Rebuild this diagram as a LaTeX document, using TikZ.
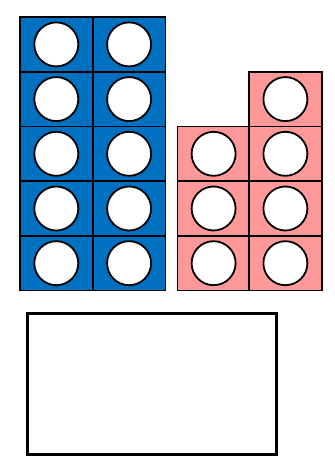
\documentclass[tikz,border=0pt]{standalone}
\usepackage{xcolor}
\usepackage{tikz}
\usetikzlibrary{positioning}
\definecolor{cubeblue}{RGB}{0,112,192}
\definecolor{cubepink}{RGB}{255,153,153}

\begin{document}
\begin{tikzpicture}[
    x=1pt, y=-1pt,
    cube/.style={rectangle, draw=black, line width=1.6pt, minimum width=72.6pt, minimum height=54.7pt, inner sep=0pt, outer sep=0pt},
    bluecube/.style={cube, fill=cubeblue},
    pinkcube/.style={cube, fill=cubepink},
    hole/.style={circle, draw=black, fill=white, line width=1.8pt, minimum size=44pt, inner sep=0pt},
    answer/.style={rectangle, draw=black, line width=3pt, minimum width=249pt, minimum height=141pt, inner sep=0pt}
]
\useasboundingbox (0,0) rectangle (334,462);

% blue stick: 2 x 5
\foreach \c in {0,1} {
  \foreach \r in {0,...,4} {
    \node[bluecube] (b-\c-\r) at ({56.3+72.8*\c}, {44.4+54.7*\r}) {};
    \node[hole] (bh-\c-\r) at (b-\c-\r) {};
  }
}

% pink stick: 3 + 4
\foreach \r in {2,3,4} {
  \node[pinkcube] (p-0-\r) at (213.6, {44.4+54.7*\r}) {};
  \node[hole] (ph-0-\r) at (p-0-\r) {};
}
\foreach \r in {1,...,4} {
  \node[pinkcube] (p-1-\r) at (285.4, {44.4+54.7*\r}) {};
  \node[hole] (ph-1-\r) at (p-1-\r) {};
}

% empty answer box
\node[answer] (box) at (151.5, 384.2) {};
\end{tikzpicture}
\end{document}
